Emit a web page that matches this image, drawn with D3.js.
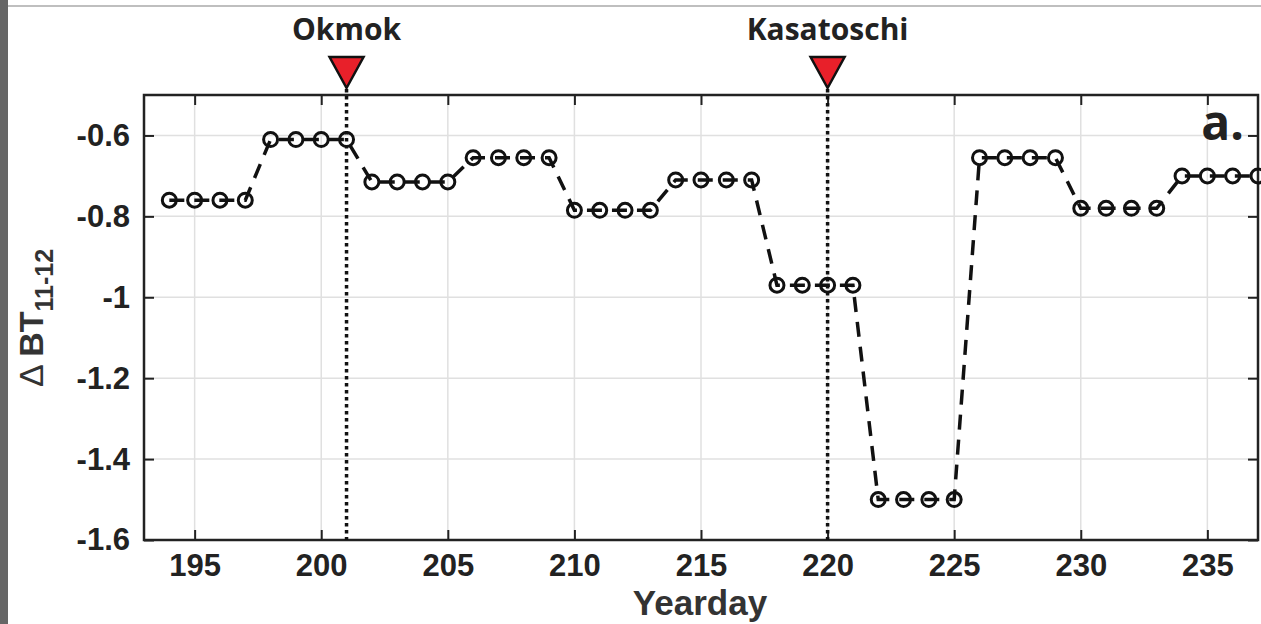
<!DOCTYPE html>
<html>
<head>
  <meta charset="utf-8">
  <script src="https://d3js.org/d3.v7.min.js"></script>
  <style>
    body { margin: 0; background: #fff; }
    svg { display: block; }
  </style>
</head>
<body>
<script>
  // yearday of each observation
  var days = [194, 195, 196, 197, 198, 199, 200, 201, 202, 203, 204, 205,
              206, 207, 208, 209, 210, 211, 212, 213, 214, 215, 216, 217,
              218, 219, 220, 221, 222, 223, 224, 225, 226, 227, 228, 229,
              230, 231, 232, 233, 234, 235, 236, 237];
  // delta BT 11-12 values (4-day blocks)
  var dbt = [-0.76, -0.76, -0.76, -0.76, -0.61, -0.61, -0.61, -0.61,
             -0.715, -0.715, -0.715, -0.715, -0.655, -0.655, -0.655, -0.655,
             -0.785, -0.785, -0.785, -0.785, -0.71, -0.71, -0.71, -0.71,
             -0.97, -0.97, -0.97, -0.97, -1.50, -1.50, -1.50, -1.50,
             -0.655, -0.655, -0.655, -0.655, -0.78, -0.78, -0.78, -0.78,
             -0.70, -0.70, -0.70, -0.70];
  var xTicks = [195, 200, 205, 210, 215, 220, 225, 230, 235];
  var yTicks = [-1.6, -1.4, -1.2, -1, -0.8, -0.6];
  var yTickLabels = ["-1.6", "-1.4", "-1.2", "-1", "-0.8", "-0.6"];
  var eventNames = ["Okmok", "Kasatoschi"];
  var eventDays = [201, 220];

  var W = 1261, H = 624;
  var margin = {left: 144, right: 3, top: 95, bottom: 84};
  var width = W - margin.left - margin.right,
      height = H - margin.top - margin.bottom;

  var svg = d3.select("body").append("svg")
      .attr("width", W).attr("height", H);

  // page edge decorations
  svg.append("rect").attr("x", 0).attr("y", 0).attr("width", 8).attr("height", H).attr("fill", "#666");
  svg.append("line").attr("x1", 8).attr("x2", W).attr("y1", 6).attr("y2", 6)
    .attr("stroke", "#aaa").attr("stroke-width", 1.5);

  var g = svg.append("g").attr("transform", "translate(" + margin.left + "," + margin.top + ")");

  var x = d3.scaleLinear().domain([193, 237]).range([0, width]);
  var y = d3.scaleLinear().domain([-1.6, -0.5]).range([height, 0]);

  // grid
  g.append("g").selectAll("line").data(xTicks).join("line")
    .attr("x1", d => x(d)).attr("x2", d => x(d)).attr("y1", 0).attr("y2", height)
    .attr("stroke", "#e0e0e0").attr("stroke-width", 1.5);
  g.append("g").selectAll("line").data(yTicks).join("line")
    .attr("x1", 0).attr("x2", width).attr("y1", d => y(d)).attr("y2", d => y(d))
    .attr("stroke", "#e0e0e0").attr("stroke-width", 1.5);

  // axes, matlab style inward ticks
  function styleAxis(sel, showText) {
    sel.select(".domain").remove();
    sel.selectAll(".tick line").attr("stroke", "#222").attr("stroke-width", 2);
    sel.selectAll(".tick text")
      .style("font-family", "'Liberation Sans', Arial, sans-serif")
      .style("font-weight", "bold").style("font-size", "31px").attr("fill", "#222");
    if (!showText) sel.selectAll(".tick text").remove();
  }
  g.append("g").attr("transform", "translate(0," + height + ")")
    .call(d3.axisBottom(x).tickValues(xTicks).tickSize(-10).tickPadding(14))
    .call(s => styleAxis(s, true));
  g.append("g")
    .call(d3.axisTop(x).tickValues(xTicks).tickSize(-10))
    .call(s => styleAxis(s, false));
  g.append("g")
    .call(d3.axisLeft(y).tickValues(yTicks).tickFormat((d, i) => yTickLabels[i]).tickSize(-10).tickPadding(14))
    .call(s => styleAxis(s, true));
  g.append("g").attr("transform", "translate(" + width + ",0)")
    .call(d3.axisRight(y).tickValues(yTicks).tickSize(-10))
    .call(s => styleAxis(s, false));

  g.append("rect").attr("width", width).attr("height", height)
    .attr("fill", "none").attr("stroke", "#222").attr("stroke-width", 2.5);

  // event markers
  eventDays.forEach(function (d, i) {
    var ex = x(d);
    g.append("line").attr("x1", ex).attr("x2", ex).attr("y1", -6).attr("y2", height)
      .attr("stroke", "#111").attr("stroke-width", 3.5).attr("stroke-dasharray", "3.5,3.5");
    g.append("path")
      .attr("d", "M" + (ex - 17) + "," + (-38) + "L" + (ex + 17) + "," + (-38) + "L" + ex + "," + (-7) + "Z")
      .attr("fill", "#e8202a").attr("stroke", "#111").attr("stroke-width", 2.5);
    svg.append("text").attr("x", margin.left + ex).attr("y", 40)
      .attr("text-anchor", "middle")
      .style("font-family", "'Open Sans', sans-serif").style("font-weight", "bold")
      .style("font-size", "30px").attr("fill", "#222").text(eventNames[i]);
  });

  // data line
  var pts = days.map((d, i) => [d, dbt[i]]);
  g.append("path").datum(pts)
    .attr("fill", "none").attr("stroke", "#111").attr("stroke-width", 3.5)
    .attr("stroke-dasharray", "15,10")
    .attr("d", d3.line().x(d => x(d[0])).y(d => y(d[1])));
  g.append("g").selectAll("circle").data(pts).join("circle")
    .attr("cx", d => x(d[0])).attr("cy", d => y(d[1])).attr("r", 7)
    .attr("fill", "none").attr("stroke", "#111").attr("stroke-width", 3);

  // panel label
  svg.append("text").attr("x", 1244).attr("y", 140).attr("text-anchor", "end")
    .style("font-family", "'Open Sans', sans-serif").style("font-weight", "bold")
    .style("font-size", "48px").attr("fill", "#222").text("a.");

  // axis labels
  svg.append("text").attr("x", 700).attr("y", 615)
    .attr("text-anchor", "middle")
    .style("font-family", "'Liberation Sans', Arial, sans-serif").style("font-weight", "bold")
    .style("font-size", "35px").attr("fill", "#333").text("Yearday");

  var yl = svg.append("text")
    .attr("transform", "translate(43,318) rotate(-90)")
    .attr("text-anchor", "middle")
    .style("font-family", "'Liberation Sans', Arial, sans-serif").style("font-weight", "bold")
    .style("font-size", "34px").attr("fill", "#333");
  yl.append("tspan").style("font-weight", "normal").text("\u0394 ");
  yl.append("tspan").text("BT");
  yl.append("tspan").attr("dy", 10).style("font-size", "25px").text("11-12");
</script>
</body>
</html>
